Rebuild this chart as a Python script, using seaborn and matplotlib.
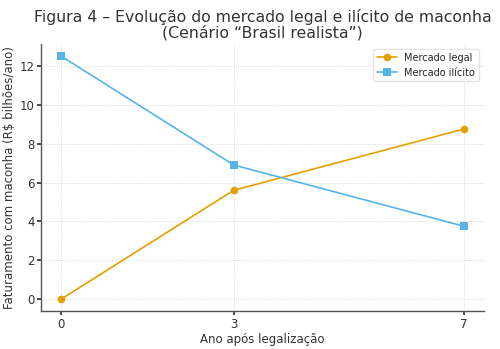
import matplotlib
matplotlib.use("Agg")
import matplotlib.pyplot as plt
import seaborn as sns
import pandas as pd

anos = [0, 3, 7]
mercado_legal = [0.0, 5.6, 8.75]
mercado_ilicito = [12.5, 6.9, 3.75]
series = ["Mercado legal", "Mercado ilícito"]

df = pd.DataFrame({
    "Ano": anos * 2,
    "Valor": mercado_legal + mercado_ilicito,
    "Serie": [series[0]] * 3 + [series[1]] * 3,
})

sns.set_theme(style="ticks")
plt.rcParams["font.family"] = ["DejaVu Sans"]

fig, ax = plt.subplots(figsize=(5.0, 3.49), dpi=100)
palette = {series[0]: "#E69F00", series[1]: "#56B4E9"}
sns.lineplot(data=df, x="Ano", y="Valor", hue="Serie", style="Serie",
             markers={series[0]: "o", series[1]: "s"}, dashes=False,
             palette=palette, markersize=5.5, linewidth=1.2,
             markeredgewidth=0, ax=ax)

ax.set_xticks(anos)
ax.set_yticks([0, 2, 4, 6, 8, 10, 12])
ax.tick_params(labelsize=8.5, length=3, pad=1.5, colors="#333333")
ax.grid(True, linestyle=":", linewidth=0.6, color="#cccccc")
for s in ["top", "right"]:
    ax.spines[s].set_visible(False)
for s in ["left", "bottom"]:
    ax.spines[s].set_color("#555555")
    ax.spines[s].set_linewidth(1.0)

ax.set_xlabel("Ano após legalização", fontsize=8.5, color="#333333", labelpad=2)
ax.set_ylabel("Faturamento com maconha (R$ bilhões/ano)", fontsize=8.5, color="#333333", labelpad=3)
ax.set_title("Figura 4 – Evolução do mercado legal e ilícito de maconha\n(Cenário “Brasil realista”)",
             fontsize=11.3, color="#333333", linespacing=1.0, pad=5)
leg = ax.legend(title=None, fontsize=7, loc="upper right", frameon=True)
leg.get_frame().set_edgecolor("#dddddd")

fig.subplots_adjust(left=0.082, right=0.968, bottom=0.108, top=0.874)
fig.savefig("out.png", dpi=100)
